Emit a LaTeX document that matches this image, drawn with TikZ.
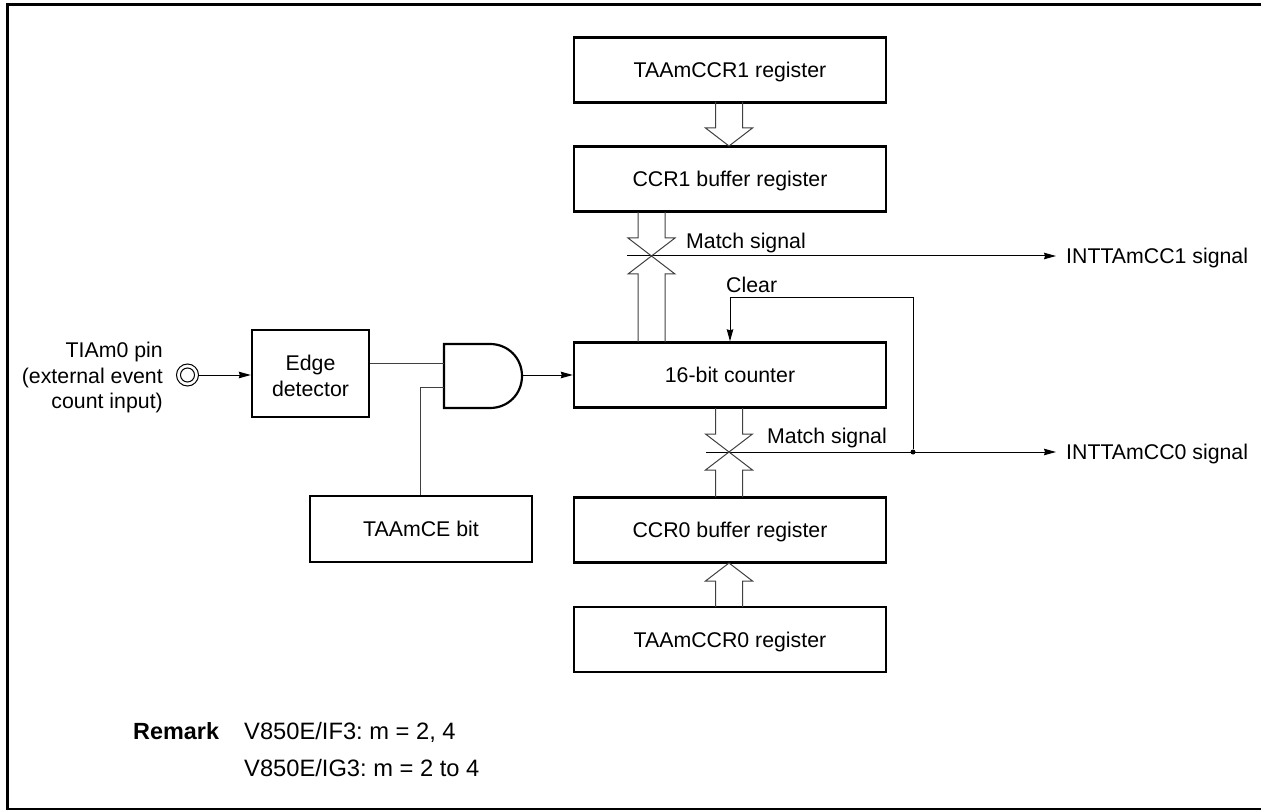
\documentclass[tikz,border=0pt]{standalone}
\usepackage{fontspec}
\setmainfont{Liberation Sans}
\frenchspacing
\usetikzlibrary{arrows.meta, calc}

% 双线箭头: 起点, 尖端, 方向
\newcommand{\busarrow}[3]{
  \draw[bus] ($(#1)+(-13.5,0)$) |- ($(#2)+(-23.5,{-18*#3})$) -- (#2)
    -- ($(#2)+(23.5,{-18*#3})$) -| ($(#1)+(13.5,0)$);
}

\begin{document}
\begin{tikzpicture}[
    x=1pt, y=-1pt,
    every node/.style={font=\fontsize{21.3}{25.5}\selectfont},
    regbox/.style={draw, line width=2.4pt, minimum width=312pt, minimum height=65pt, inner sep=0pt, text height=15pt, text depth=0pt},
    smallbox/.style={draw, line width=2.4pt, inner sep=0pt},
    sig/.style={line width=1pt, -{Stealth[length=12pt, width=6.5pt, inset=1pt]}},
    wire/.style={line width=1pt, draw=black!75},
    bus/.style={line width=1pt, draw=black!75, line join=miter},
    lbl/.style={anchor=base west, inner sep=0pt},
    outlbl/.style={anchor=west, inner sep=0pt, text height=15pt, text depth=0pt},
    remlbl/.style={lbl, font=\fontsize{23.7}{28}\selectfont},
  ]
    \useasboundingbox (0, 0) rectangle (1261, 810);
    % 外框 (右侧不可见)
    \draw[line width=3.2pt] (1261, 4.6) -- (7.8, 4.6) -- (7.8, 810) -- (1261, 810);

    % 寄存器
    \node[regbox] (ccr1reg) at (730, 70)    {TAAmCCR1 register};
    \node[regbox] (ccr1buf) at (730, 179)   {CCR1 buffer register};
    \node[regbox] (counter) at (730, 375)   {16-bit counter};
    \node[regbox] (ccr0buf) at (730, 530)   {CCR0 buffer register};
    \node[regbox] (ccr0reg) at (730, 639.5) {TAAmCCR0 register};

    % 左侧部分
    \node[anchor=east, align=right, inner sep=0pt] (pinlbl) at (163, 377.5)
      {TIAm0 pin\\(external event\\count input)};
    \node[draw, circle, line width=1pt, minimum size=22pt, inner sep=0pt] (pin) at (187.5, 375) {};
    \node[draw, circle, line width=1pt, minimum size=14pt, inner sep=0pt] at (pin) {};
    \node[smallbox, minimum width=117pt, minimum height=87pt] (edgedet) at (310.5, 373.5) {};
    \node[align=center, inner sep=0pt] (edgelbl) at (310.5, 376) {Edge\\detector};
    \node[regbox, minimum width=222pt, minimum height=66pt] (cebit) at (421, 529) {TAAmCE bit};

    % 与门
    \coordinate (andin1) at (444, 363);
    \coordinate (andin2) at (444, 387);
    \coordinate (andout) at (522, 375);
    \draw[line width=2.2pt] (490, 344) -- (444, 344) -- (444, 408) -- (490, 408)
      .. controls (508, 408) and (522, 394) .. (522, 376)
      .. controls (522, 358) and (508, 344) .. (490, 344) -- cycle;
    \draw[wire] (edgedet.east |- andin1) -- (andin1);
    \draw[wire] (cebit.north -| andin2) ++(-24, 0) |- (andin2);
    \draw[sig] (pin) -- (edgedet.west |- pin);
    \draw[sig] (andout) -- (counter.west |- andout);

    % 输出信号
    \node[outlbl] (cc1sig) at (1066, 256) {INTTAmCC1 signal};
    \node[outlbl] (cc0sig) at (1066, 452) {INTTAmCC0 signal};
    \coordinate (cross1) at (651.5, 256);
    \coordinate (cross0) at (729, 452);
    \node[lbl] (match1) at (686, 249) {Match signal};
    \node[lbl] (match0) at (767, 443) {Match signal};
    \node[lbl] (clear) at (726, 293) {Clear};
    \coordinate (clearcnr) at (730, 298);
    \node[fill, circle, inner sep=0pt, minimum size=5pt] (junc) at (913, 452) {};

    \draw[sig, shorten >=10pt] (627, 256) -- (cc1sig.west);
    \draw[sig, shorten >=10pt] (706, 452) -- (cc0sig.west);
    \draw[sig] (junc) |- (clearcnr) -- (counter.north);

    % 双线箭头
    \coordinate (tip1) at (729, 146);
    \coordinate (tip2) at (729, 563);
    \busarrow{729, 102}{tip1}{1}
    \busarrow{651.5, 212}{cross1}{1}
    \busarrow{651.5, 342}{cross1}{-1}
    \busarrow{729, 408}{cross0}{1}
    \busarrow{729, 497}{cross0}{-1}
    \busarrow{729, 607}{tip2}{-1}

    % 注释
    \node[remlbl, font=\fontsize{23.4}{28}\selectfont\bfseries] (remark) at (133, 739) {Remark};
    \node[remlbl] (rem1) at (244, 739) {V850E/IF3: m = 2, 4};
    \node[remlbl] (rem2) at (244, 776) {V850E/IG3: m = 2 to 4};
\end{tikzpicture}
\end{document}
